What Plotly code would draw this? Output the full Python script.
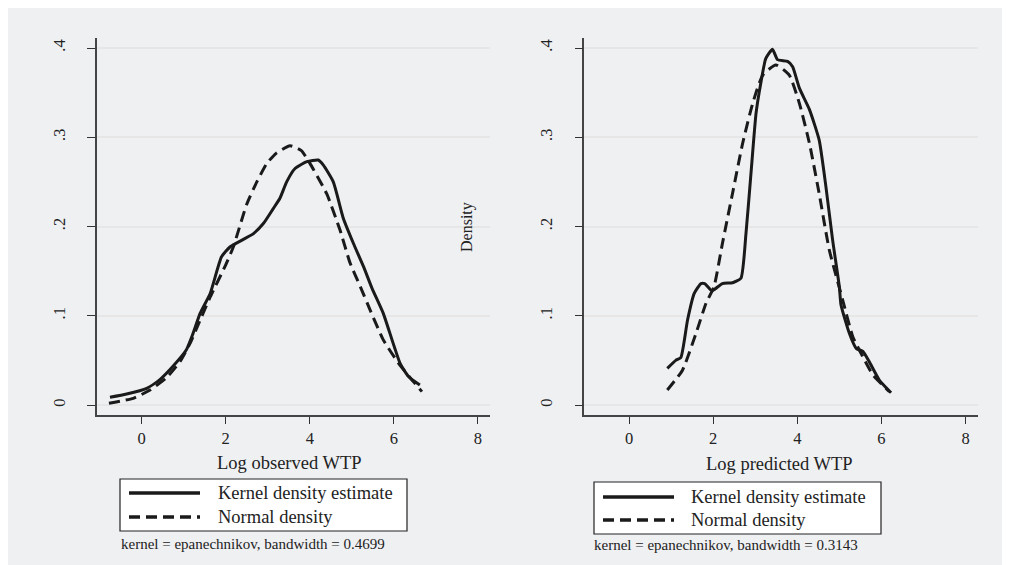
import plotly.graph_objects as go

# ---- data ----
left_kde_x = [-0.755, -0.36, 0.12, 0.44, 0.75, 1.06, 1.22, 1.39, 1.63, 1.90, 2.10, 2.40, 2.66, 2.90,
              3.13, 3.29, 3.45, 3.65, 3.93, 4.20, 4.32, 4.56, 4.80, 5.04, 5.28, 5.48, 5.75, 6.15,
              6.35, 6.62]
left_kde_y = [0.0086, 0.0123, 0.0187, 0.0288, 0.0437, 0.0616, 0.080, 0.1027, 0.125, 0.166, 0.177,
              0.185, 0.192, 0.2036, 0.220, 0.2316, 0.250, 0.265, 0.2726, 0.2745, 0.269, 0.250,
              0.209, 0.181, 0.155, 0.131, 0.1027, 0.0467, 0.032, 0.0224]

left_norm_x = [-0.78, -0.2, 0.2, 0.6, 0.91, 1.15, 1.39, 1.63, 2.0, 2.18, 2.5, 2.74, 2.98, 3.2,
               3.53, 3.8, 4.0, 4.4, 4.72, 4.96, 5.2, 5.44, 5.75, 6.11, 6.4, 6.67]
left_norm_y = [0.002, 0.0075, 0.0168, 0.031, 0.0486, 0.069, 0.095, 0.121, 0.157, 0.177, 0.225,
               0.250, 0.2708, 0.282, 0.2905, 0.285, 0.271, 0.237, 0.196, 0.159, 0.133, 0.106,
               0.073, 0.047, 0.030, 0.015]

right_kde_x = [0.91, 1.11, 1.23, 1.39, 1.55, 1.71, 1.80, 1.97, 2.22, 2.46, 2.66, 2.78, 2.90, 3.02,
               3.13, 3.25, 3.41, 3.53, 3.77, 3.89, 4.05, 4.29, 4.52, 4.68, 4.84, 5.0, 5.04, 5.24,
               5.40, 5.56, 5.71, 5.95, 6.23]
right_kde_y = [0.041, 0.050, 0.053, 0.095, 0.125, 0.136, 0.136, 0.128, 0.136, 0.137, 0.142, 0.192,
               0.26, 0.327, 0.360, 0.388, 0.3985, 0.387, 0.385, 0.379, 0.355, 0.331, 0.297, 0.245,
               0.185, 0.1326, 0.112, 0.080, 0.0635, 0.060, 0.0486, 0.028, 0.0138]

right_norm_x = [0.91, 1.27, 1.59, 1.83, 2.02, 2.22, 2.46, 2.70, 2.94, 3.18, 3.49, 3.81, 4.05, 4.29,
                4.52, 4.76, 5.08, 5.32, 5.56, 5.80, 6.19]
right_norm_y = [0.0168, 0.039, 0.080, 0.114, 0.1326, 0.181, 0.237, 0.293, 0.338, 0.3697, 0.381,
                0.3697, 0.338, 0.293, 0.237, 0.174, 0.1176, 0.0765, 0.054, 0.0336, 0.015]

x_ticks = [0, 2, 4, 6, 8]
y_ticks = [0, 0.1, 0.2, 0.3, 0.4]
y_tick_text = ["0", ".1", ".2", ".3", ".4"]

series_names = ["Kernel density estimate", "Normal density"]
x_titles = ["Log observed WTP", "Log predicted WTP"]
notes = ["kernel = epanechnikov, bandwidth = 0.4699", "kernel = epanechnikov, bandwidth = 0.3143"]
y_title = "Density"

# ---- figure ----
# the html page body has an 8px margin, so the figure is placed at (8, 8) in the window
OFF = 8
W, H = 1010 - OFF, 565 - OFF
FONT = "Liberation Serif"
INK = "#1a1a1a"
TXT = "#222"


def px(v):
    return (v - OFF) / W


def py(v):
    return 1 - (v - OFF) / H


fig = go.Figure()
solid = dict(color=INK, width=3)
dashed = dict(color=INK, width=3, dash="11px,6px")

fig.add_trace(go.Scatter(x=left_kde_x, y=left_kde_y, mode="lines", name=series_names[0],
                         line=dict(**solid, shape="spline", smoothing=0.5),
                         xaxis="x", yaxis="y"))
fig.add_trace(go.Scatter(x=left_norm_x, y=left_norm_y, mode="lines", name=series_names[1],
                         line=dict(**dashed, shape="spline", smoothing=0.5),
                         xaxis="x", yaxis="y"))
fig.add_trace(go.Scatter(x=right_kde_x, y=right_kde_y, mode="lines", name=series_names[0],
                         line=dict(**solid, shape="spline", smoothing=0.5),
                         xaxis="x2", yaxis="y2"))
fig.add_trace(go.Scatter(x=right_norm_x, y=right_norm_y, mode="lines", name=series_names[1],
                         line=dict(**dashed, shape="spline", smoothing=0.5),
                         xaxis="x2", yaxis="y2"))

ydom = [py(415), py(38)]
xr = [-1.064, 8.29]
yr = [-0.0112, 0.4112]

xax = dict(range=xr, tickvals=x_ticks, ticks="outside", ticklen=7, tickwidth=1.3,
           tickcolor="#333", showline=True, linecolor="#444", linewidth=1.5,
           showgrid=False, zeroline=False, fixedrange=True,
           tickfont=dict(family=FONT, size=16.5, color=TXT))
yax = dict(range=yr, domain=ydom, tickvals=y_ticks, ticktext=y_tick_text, tickangle=-90,
           ticks="outside", ticklen=8, tickwidth=1.3, tickcolor="#333", ticklabelstandoff=16,
           showline=True, linecolor="#444", linewidth=1.5,
           showgrid=True, gridcolor="#e6e6e6", gridwidth=1.5, zeroline=False, fixedrange=True,
           tickfont=dict(family=FONT, size=16.5, color=TXT))

shapes = [dict(type="rect", xref="paper", yref="paper", x0=0, x1=px(1005), y0=0, y1=1,
               fillcolor="#eff0f2", line=dict(width=0), layer="below")]
annotations = []

# legends drawn as boxes with key lines and labels
legend_boxes = [
    dict(x0=120, x1=407, y0=479, y1=531, kx0=129, kx1=200, tx=216, rows=[493, 517]),
    dict(x0=594, x1=881, y0=482, y1=534, kx0=603, kx1=674, tx=689, rows=[497, 520]),
]
for lb in legend_boxes:
    shapes.append(dict(type="rect", xref="paper", yref="paper",
                       x0=px(lb["x0"]), x1=px(lb["x1"]), y0=py(lb["y1"]), y1=py(lb["y0"]),
                       fillcolor="white", line=dict(color=TXT, width=1.2), layer="above"))
    for i, (name, sty) in enumerate(zip(series_names, [solid, dashed])):
        yy = py(lb["rows"][i])
        shapes.append(dict(type="line", xref="paper", yref="paper",
                           x0=px(lb["kx0"]), x1=px(lb["kx1"]), y0=yy, y1=yy,
                           line=dict(color=INK, width=3.5, dash=sty.get("dash", "solid")),
                           layer="above"))
        annotations.append(dict(text=name, x=px(lb["tx"]), y=yy, xref="paper", yref="paper",
                                showarrow=False, xanchor="left", yanchor="middle",
                                font=dict(family=FONT, size=18.5, color=TXT)))

annotations += [
    dict(text=x_titles[0], x=px(289), y=py(463), xref="paper", yref="paper", showarrow=False,
         font=dict(family=FONT, size=18.5, color=TXT), xanchor="center", yanchor="middle"),
    dict(text=x_titles[1], x=px(779), y=py(464), xref="paper", yref="paper", showarrow=False,
         font=dict(family=FONT, size=18.5, color=TXT), xanchor="center", yanchor="middle"),
    dict(text=notes[0], x=px(119), y=py(544), xref="paper", yref="paper", showarrow=False,
         font=dict(family=FONT, size=15, color=TXT), xanchor="left", yanchor="middle"),
    dict(text=notes[1], x=px(592), y=py(545), xref="paper", yref="paper", showarrow=False,
         font=dict(family=FONT, size=15, color=TXT), xanchor="left", yanchor="middle"),
    dict(text=y_title, x=px(467), y=py(227), xref="paper", yref="paper", showarrow=False,
         textangle=-90, font=dict(family=FONT, size=16, color=TXT),
         xanchor="center", yanchor="middle"),
]

fig.update_layout(
    width=W, height=H,
    margin=dict(l=0, r=0, t=0, b=0),
    paper_bgcolor="white",
    plot_bgcolor="white",
    showlegend=False,
    xaxis=dict(**xax, domain=[px(97), px(490)], anchor="y"),
    yaxis=dict(**yax, anchor="x"),
    xaxis2=dict(**xax, domain=[px(584.3), px(977.7)], anchor="y2"),
    yaxis2=dict(**yax, anchor="x2"),
    shapes=shapes,
    annotations=annotations,
)

fig.write_html("out.html")
